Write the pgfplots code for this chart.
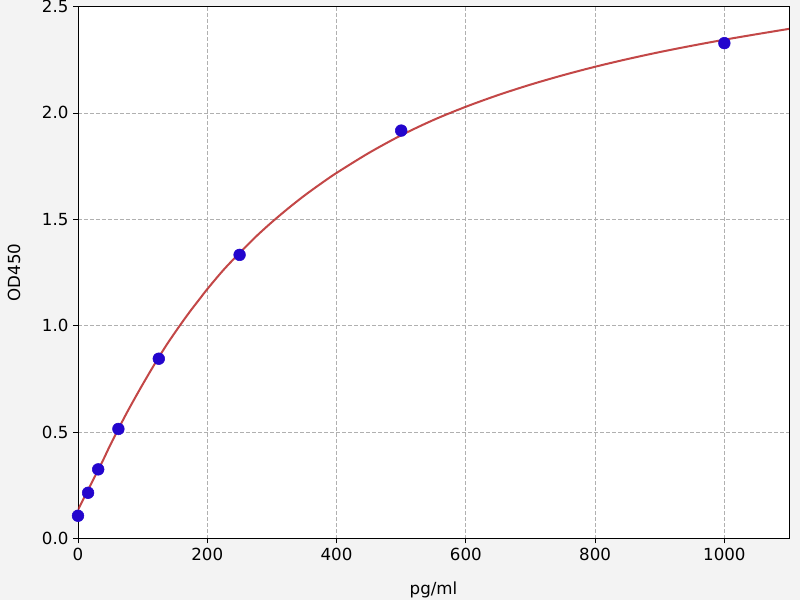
\documentclass[border=0pt]{standalone}
\usepackage{pgfplots}
\pgfplotsset{compat=1.18}
\usepackage{fontspec}
\setmainfont{DejaVu Sans}
\definecolor{bg}{RGB}{243,243,243}
\definecolor{mkblue}{RGB}{35,5,205}
\definecolor{curvered}{RGB}{180,25,25}
\definecolor{gridgray}{RGB}{176,176,176}
\begin{document}
\begin{tikzpicture}[x=1pt,y=1pt]
\fill[bg] (0,0) rectangle (600,450);
\useasboundingbox (0,0) rectangle (600,450);
\begin{axis}[
  at={(58.5pt,46.1pt)}, anchor=south west,
  scale only axis, width=533.25pt, height=399pt,
  xmin=0, xmax=1100, ymin=0, ymax=2.5,
  xtick={0,200,400,600,800,1000},
  ytick={0,0.5,1.0,1.5,2.0,2.5},
  yticklabel style={/pgf/number format/fixed,/pgf/number format/fixed zerofill,/pgf/number format/precision=1},
  xticklabel style={/pgf/number format/fixed,/pgf/number format/1000 sep={}},
  /pgf/number format/assume math mode=true,
  tick label style={font=\fontsize{12.5}{14}\selectfont},
  label style={font=\fontsize{12.5}{14}\selectfont},
  xlabel={pg/ml}, ylabel={OD450},
  xlabel style={at={(axis description cs:0.5,-0.097)}, anchor=center},
  ylabel style={at={(axis description cs:-0.090,0.5)}, anchor=center},
  tick align=outside, tick pos=left,
  major tick length=3.6pt,
  axis line style={black, line width=0.6pt},
  every tick/.style={black, line width=0.6pt},
  grid=major,
  major grid style={gridgray, dash pattern=on 3pt off 1.5pt, line width=0.6pt},
  axis background/.style={fill=white},
  clip=true,
]
\addplot[only marks, mark=*, mark size=4.4pt, mkblue, mark options={fill=mkblue, draw=mkblue}, clip=false] coordinates {
(0,0.107) (15.6,0.215) (31.25,0.325) (62.5,0.515) (125,0.845) (250,1.333) (500,1.917) (1000,2.328)
};
\addplot[curvered, line width=1.5pt, opacity=0.8, smooth] coordinates {
(0,0.135) (12.5,0.21) (25,0.285) (37.5,0.36) (50,0.44) (62.5,0.515) (75,0.588) (87.5,0.657) (100,0.724)
(112.5,0.789) (125,0.852) (137.5,0.912) (150,0.968) (162.5,1.022) (175,1.074) (187.5,1.123) (200,1.172)
(225,1.262) (250,1.342) (275,1.418) (300,1.487) (325,1.551) (350,1.611) (375,1.666) (400,1.718)
(450,1.812) (500,1.895) (550,1.967) (600,2.029) (650,2.084) (700,2.133) (750,2.177)
(800,2.217) (850,2.253) (900,2.286) (950,2.316) (1000,2.344) (1050,2.370) (1100,2.395)
};
\end{axis}
\end{tikzpicture}
\end{document}
